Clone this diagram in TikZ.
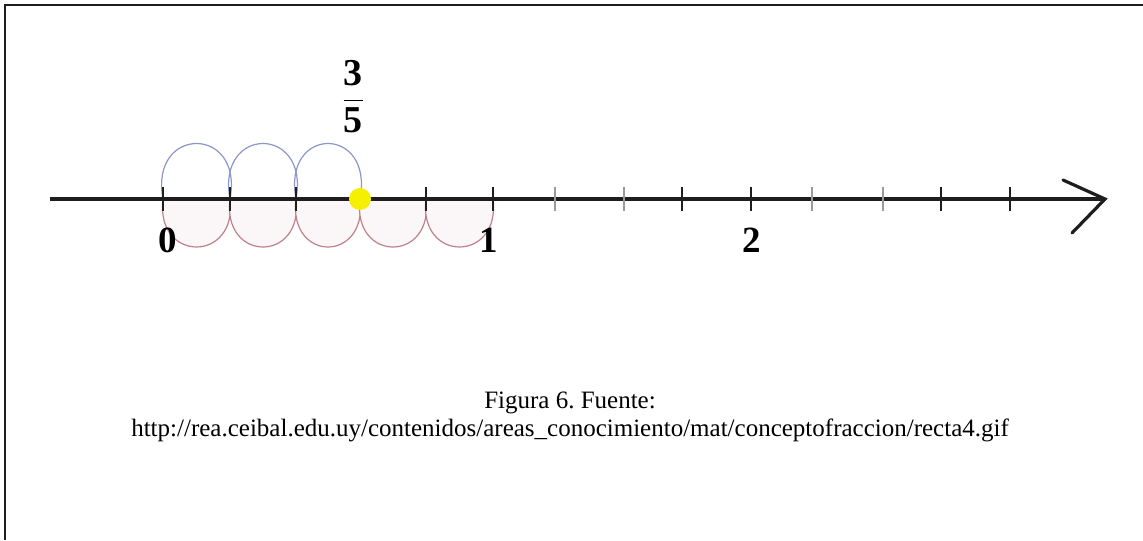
\documentclass[tikz,border=0pt]{standalone}
\usepackage{fontspec}
\setmainfont{Liberation Serif}
\usepackage{tikz}
\usetikzlibrary{arrows.meta,positioning,calc}
\definecolor{ink}{HTML}{1E1E1E}
\definecolor{hopblue}{HTML}{8C96C8}
\definecolor{hopred}{HTML}{C08088}
\definecolor{dotyellow}{HTML}{F5F000}
\frenchspacing

\begin{document}
\begin{tikzpicture}[
  x=0.5pt,y=-0.5pt,
  axis/.style={draw=ink,line width=2pt},
  tick/.style={draw=ink,line width=1.3pt},
  faint/.style={draw=ink!45,line width=0.8pt},
  hopup/.style={draw=hopblue,line width=0.6pt},
  hopdown/.style={draw=hopred,line width=0.6pt,fill=hopred!6},
  numlabel/.style={font=\fontsize{18.5}{20}\selectfont\bfseries,inner sep=0pt},
  caption/.style={font=\fontsize{12.5}{13.5}\selectfont,inner sep=0pt,align=center}
]
  \useasboundingbox (0,0) rectangle (1143,540);
  \draw[ink,line width=1pt] (5,540) -- (5,5) -- (1143,5);

  % unit points on the line
  \foreach \x [count=\i from 0] in {163,230,296,360,426,493,555,624,682,751,812,883,941,1010}
    \coordinate (t\i) at (\x,199);
  \coordinate (start) at (50,199);
  \coordinate (tip) at (1105,199);
  \coordinate (wingup) at (1063,180);
  \coordinate (winglow) at (1072,233);

  % fifths below, three jumps above
  \foreach \a/\b in {0/1,1/2,2/3,3/4,4/5}
    \draw[hopdown] (t\a) .. controls +(-8,64) and +(8,64) .. (t\b);
  \foreach \a/\b in {0/1,1/2,2/3}
    \draw[hopup] (t\a) .. controls +(-14,-74) and +(14,-74) .. (t\b);

  \draw[axis] (start) -- (tip);
  \draw[axis,line width=1.6pt,line cap=round] (wingup) -- (tip) -- (winglow);

  \foreach \i in {0,1,2,4,5,8,9,12,13}
    \draw[tick] ($(t\i)+(0,-12)$) -- ($(t\i)+(0,12)$);
  \foreach \i in {6,7,10,11}
    \draw[faint] ($(t\i)+(0,-12)$) -- ($(t\i)+(0,12)$);

  \fill[dotyellow] (t3) circle[radius=11];

  \node[numlabel] (zero) at (168,240) {0};
  \node[numlabel] (one) at (489,240) {1};
  \node[numlabel] (two) at (752,240) {2};
  \node[font=\fontsize{19}{21}\selectfont,inner sep=0pt] (frac) at (353,97)
    {$\displaystyle\frac{\textbf{3}}{\textbf{5}}$};

  \node[caption] (fig) at (570,403) {Figura 6. Fuente:};
  \node[caption,below=2pt of fig] (src)
    {http://rea.ceibal.edu.uy/contenidos/areas\_conocimiento/mat/conceptofraccion/recta4.gif};
\end{tikzpicture}
\end{document}
